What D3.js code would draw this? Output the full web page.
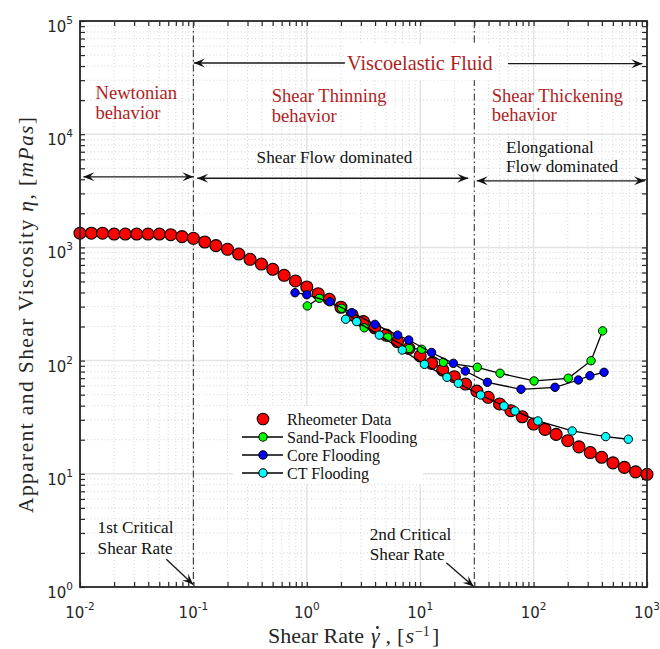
<!DOCTYPE html>
<html>
<head>
<meta charset="utf-8">
<script src="https://cdn.jsdelivr.net/npm/d3@7"></script>
<style>
  body { margin: 0; background: #fff; }
  svg { display: block; }
</style>
</head>
<body>
<svg id="chart" width="660" height="649"></svg>
<script>
// ---- data ----------------------------------------------------------------
const shearRate = [
  0.01, 0.0126, 0.0158, 0.02, 0.0251, 0.0316, 0.0398, 0.0501, 0.0631, 0.0794,
  0.1, 0.126, 0.158, 0.2, 0.251, 0.316, 0.398, 0.501, 0.631, 0.794,
  1, 1.26, 1.58, 2, 2.51, 3.16, 3.98, 5.01, 6.31, 7.94,
  10, 12.6, 15.8, 20, 25.1, 31.6, 39.8, 50.1, 63.1, 79.4,
  100, 126, 158, 200, 251, 316, 398, 501, 631, 794, 1000
];
const rheometerViscosity = [
  1334, 1334, 1334, 1313, 1313, 1313, 1313, 1313, 1295, 1244,
  1203, 1116, 1036, 962, 874, 785, 713, 641, 567, 505,
  447, 390, 348, 296, 253, 221, 195, 168, 147, 128,
  110, 94.6, 82.6, 72.1, 62.1, 53.8, 47.4, 41.4, 36.1, 31.9,
  27.5, 24.7, 22.3, 19.6, 17.3, 15.4, 14.0, 12.5, 11.4, 10.4, 9.9
];

const sandPackRate      = [1.01, 1.29, 2.03, 3.21, 5.17, 8.01, 10.3, 16.0, 31.9, 50.6, 101, 202, 321, 406];
const sandPackViscosity = [304, 355, 290, 195, 161, 128, 126, 96.6, 87.3, 77.3, 66.1, 69.8, 99.8, 183];

const coreRate      = [0.787, 1.0, 1.60, 2.49, 3.99, 6.33, 7.92, 12.6, 19.6, 25.0, 39.1, 77.4, 154.5, 248, 314, 418];
const coreViscosity = [398, 382, 331, 265, 209, 168, 152, 118, 94.6, 80.9, 64.3, 55.8, 58.1, 67.4, 73.6, 78.8];

const ctRate      = [2.20, 2.75, 4.36, 6.95, 10.9, 17.2, 21.7, 34.1, 54.8, 68.5, 109, 219, 432, 684];
const ctViscosity = [232, 221, 168, 124, 92.7, 71.2, 63.0, 49.7, 39.7, 35.9, 29.3, 23.9, 21.3, 20.2];

const criticalRates = [0.1, 30];
const xTickExponents = [-2, -1, 0, 1, 2, 3];
const yTickExponents = [0, 1, 2, 3, 4, 5];
const legendLabels = ["Rheometer Data", "Sand-Pack Flooding", "Core Flooding", "CT Flooding"];

// ---- layout ----------------------------------------------------------------
const svg = d3.select("#chart");
const X0 = 80, X1 = 647, Y0 = 587, Y1 = 21;
const x = d3.scaleLog().domain([1e-2, 1e3]).range([X0, X1]);
const y = d3.scaleLog().domain([1, 1e5]).range([Y0, Y1]);

const SERIF = "'Liberation Serif', 'Times New Roman', serif";
const SANS = "'DejaVu Sans', sans-serif";
const AX = "#262626";
const RED_TEXT = "#b01e1e";

svg.append("rect").attr("width", 660).attr("height", 649).attr("fill", "#fff");

svg.append("defs").append("clipPath").attr("id", "plotClip")
  .append("rect").attr("x", X0).attr("y", Y1).attr("width", X1 - X0).attr("height", Y0 - Y1);

// minor / major positions per decade
const minorX = [], minorY = [];
for (let e = -2; e < 3; e++) for (let k = 2; k <= 9; k++) minorX.push(k * Math.pow(10, e));
for (let e = 0; e < 5; e++) for (let k = 2; k <= 9; k++) minorY.push(k * Math.pow(10, e));
const majorX = xTickExponents.map(e => Math.pow(10, e));
const majorY = yTickExponents.map(e => Math.pow(10, e));

// ---- grid ----------------------------------------------------------------
const grid = svg.append("g").attr("clip-path", "url(#plotClip)");
grid.selectAll(".mgx").data(minorX).enter().append("line")
  .attr("x1", d => x(d)).attr("x2", d => x(d)).attr("y1", Y1).attr("y2", Y0)
  .attr("stroke", "#cfcfcf").attr("stroke-width", 0.9).attr("stroke-dasharray", "1,2.5");
grid.selectAll(".mgy").data(minorY).enter().append("line")
  .attr("y1", d => y(d)).attr("y2", d => y(d)).attr("x1", X0).attr("x2", X1)
  .attr("stroke", "#cfcfcf").attr("stroke-width", 0.9).attr("stroke-dasharray", "1,2.5");
grid.selectAll(".Mgx").data(majorX).enter().append("line")
  .attr("x1", d => x(d)).attr("x2", d => x(d)).attr("y1", Y1).attr("y2", Y0)
  .attr("stroke", "#e3e3e3").attr("stroke-width", 1.5);
grid.selectAll(".Mgy").data(majorY).enter().append("line")
  .attr("y1", d => y(d)).attr("y2", d => y(d)).attr("x1", X0).attr("x2", X1)
  .attr("stroke", "#e3e3e3").attr("stroke-width", 1.5);

// ---- axes (ticks pointing inward on all four sides) -----------------------
const TL = 5;
const allX = majorX.concat(minorX), allY = majorY.concat(minorY);
function styleAxis(g) {
  g.select(".domain").remove();
  g.selectAll(".tick line").attr("stroke", AX).attr("stroke-width", 1.2);
  g.selectAll(".tick text").remove();
}
svg.append("g").attr("transform", `translate(0,${Y0})`)
  .call(d3.axisBottom(x).tickValues(allX).tickSize(-TL)).call(styleAxis);
svg.append("g").attr("transform", `translate(0,${Y1})`)
  .call(d3.axisTop(x).tickValues(allX).tickSize(-TL)).call(styleAxis);
svg.append("g").attr("transform", `translate(${X0},0)`)
  .call(d3.axisLeft(y).tickValues(allY).tickSize(-TL)).call(styleAxis);
svg.append("g").attr("transform", `translate(${X1},0)`)
  .call(d3.axisRight(y).tickValues(allY).tickSize(-TL)).call(styleAxis);

// tick labels 10^n
xTickExponents.forEach(e => {
  const t = svg.append("text").attr("x", x(Math.pow(10, e))).attr("y", 618)
    .attr("text-anchor", "middle").attr("font-family", SANS).attr("fill", AX);
  t.append("tspan").attr("font-size", 15).text("10");
  t.append("tspan").attr("font-size", 10.5).attr("dy", -8).text(e < 0 ? "-" + (-e) : e);
});
yTickExponents.forEach(e => {
  const t = svg.append("text").attr("x", 73).attr("y", y(Math.pow(10, e)) + 11)
    .attr("text-anchor", "end").attr("font-family", SANS).attr("fill", AX);
  t.append("tspan").attr("font-size", 15).text("10");
  t.append("tspan").attr("font-size", 10.5).attr("dy", -8).text(e);
});

// ---- critical shear-rate lines ----------------------------------------------
svg.selectAll(".crit").data(criticalRates).enter().append("line")
  .attr("x1", d => x(d)).attr("x2", d => x(d)).attr("y1", Y1).attr("y2", Y0)
  .attr("stroke", "#3a3a3a").attr("stroke-width", 1.1)
  .attr("stroke-dasharray", "7,3,1.5,3");

// ---- arrows ----------------------------------------------------------------
function head(g, tx, ty, ang, L = 11, Wd = 9, fill = "#111") {
  g.append("path")
    .attr("d", `M0,0 L${-L},${-Wd / 2} L${-0.6 * L},0 L${-L},${Wd / 2} Z`)
    .attr("transform", `translate(${tx},${ty}) rotate(${ang})`)
    .attr("fill", fill);
}
function arrow(x1, y1, x2, y2, startHead, endHead) {
  const g = svg.append("g");
  g.append("line").attr("x1", x1).attr("y1", y1).attr("x2", x2).attr("y2", y2)
    .attr("stroke", "#1a1a1a").attr("stroke-width", 1.4);
  const ang = Math.atan2(y2 - y1, x2 - x1) * 180 / Math.PI;
  if (endHead) head(g, x2, y2, ang);
  if (startHead) head(g, x1, y1, ang + 180);
}

// region brackets
arrow(x(0.0107), y(4200), x(0.0999), y(4200), true, true);
arrow(x(0.108), y(4080), x(26.5), y(4080), true, true);
arrow(x(31.5), y(3870), x(960), y(3870), true, true);

// viscoelastic range arrows and label box
arrow(x(2.17), y(42600), x(0.101), y(42600), false, true);
arrow(x(59.4), y(42000), x(910), y(42000), false, true);
svg.append("rect").attr("x", x(2.2)).attr("y", y(62000)).attr("width", x(60) - x(2.2) - 12)
  .attr("height", y(30000) - y(62000)).attr("fill", "#fff");

// pointers to the critical rates
arrow(x(0.0577), y(1.757), x(0.0995), y(1.05), false, true);
arrow(x(17.0), y(1.64), x(29.6), y(1.01), false, true);

// ---- text annotations ----------------------------------------------------
function label(lines, rx, vy, size, color, lh) {
  const t = svg.append("text").attr("x", x(rx)).attr("y", y(vy))
    .attr("font-family", SERIF).attr("font-size", size).attr("fill", color);
  lines.forEach((s, i) => t.append("tspan").attr("x", x(rx)).attr("dy", i ? lh : 0).text(s));
}
label(["Viscoelastic Fluid"], 2.26, 36900, 20.3, RED_TEXT, 0);
label(["Newtonian", "behavior"], 0.0137, 20500, 18.6, RED_TEXT, 20);
label(["Shear Thinning", "behavior"], 0.49, 19400, 18.6, RED_TEXT, 20);
label(["Shear Thickening", "behavior"], 42.7, 19400, 18.6, RED_TEXT, 19.5);
label(["Shear Flow dominated"], 0.361, 5530, 17.2, "#111", 0);
label(["Elongational", "Flow dominated"], 57.1, 6870, 17.2, "#111", 19);
label(["1st Critical", "Shear Rate"], 0.0143, 3.0, 17.2, "#111", 21);
label(["2nd Critical", "Shear Rate"], 3.59, 2.6, 17.2, "#111", 20);

// ---- data series ----------------------------------------------------------
const plot = svg.append("g");
const rheo = shearRate.map((r, i) => [r, rheometerViscosity[i]]);
plot.selectAll(".rheo").data(rheo).enter().append("circle")
  .attr("cx", d => x(d[0])).attr("cy", d => y(d[1])).attr("r", 6)
  .attr("fill", "#ff0000").attr("stroke", "#000").attr("stroke-width", 1.1);

const line = d3.line().x(d => x(d[0])).y(d => y(d[1]));
const flooding = [
  { rate: sandPackRate, visc: sandPackViscosity, color: "#00ff00" },
  { rate: coreRate, visc: coreViscosity, color: "#0000ff" },
  { rate: ctRate, visc: ctViscosity, color: "#00ffff" }
];
flooding.forEach(s => {
  const pts = s.rate.map((r, i) => [r, s.visc[i]]);
  plot.append("path").datum(pts).attr("d", line)
    .attr("fill", "none").attr("stroke", "#000").attr("stroke-width", 1.3);
  plot.selectAll(null).data(pts).enter().append("circle")
    .attr("cx", d => x(d[0])).attr("cy", d => y(d[1])).attr("r", 4.2)
    .attr("fill", s.color).attr("stroke", "#000").attr("stroke-width", 1);
});

// ---- legend ----------------------------------------------------------------
const lg = svg.append("g");
lg.append("rect").attr("x", 233).attr("y", 406).attr("width", 190).attr("height", 78).attr("fill", "#fff");
const legendColors = ["#ff0000", "#00ff00", "#0000ff", "#00ffff"];
legendLabels.forEach((name, i) => {
  const cy = 419 + i * 18;
  if (i > 0) lg.append("line").attr("x1", 242).attr("x2", 283).attr("y1", cy).attr("y2", cy)
    .attr("stroke", "#000").attr("stroke-width", 1.6);
  lg.append("circle").attr("cx", 263).attr("cy", cy).attr("r", i === 0 ? 5.8 : 4.2)
    .attr("fill", legendColors[i]).attr("stroke", "#000").attr("stroke-width", 1.1);
  lg.append("text").attr("x", 287).attr("y", cy + 5.5).attr("font-family", SERIF)
    .attr("font-size", 16).attr("fill", "#111").text(name);
});

// ---- frame ------------------------------------------------------------------
svg.append("rect").attr("x", X0).attr("y", Y1).attr("width", X1 - X0).attr("height", Y0 - Y1)
  .attr("fill", "none").attr("stroke", AX).attr("stroke-width", 1.8);

// ---- axis titles -----------------------------------------------------------
const XT_BASE = 643;
const xt = svg.append("text").attr("x", 268).attr("y", XT_BASE)
  .attr("font-family", SERIF).attr("font-size", 22).attr("fill", AX);
xt.append("tspan").text("Shear Rate");
xt.append("tspan").attr("dx", 7).attr("font-style", "italic").text("γ");
xt.append("tspan").attr("dx", 6).text(",");
xt.append("tspan").attr("dx", 6).text("[");
xt.append("tspan").attr("dx", 1).attr("font-style", "italic").text("s");
xt.append("tspan").attr("font-size", 14).attr("dx", 1).attr("dy", -7.5).text("−1");
xt.append("tspan").attr("dx", 2).attr("dy", 7.5).text("]");
// dot accent over gamma (time derivative)
{
  const node = xt.node();
  const idx = "Shear Rate".length;
  const ext = node.getExtentOfChar(idx);
  svg.append("circle").attr("cx", ext.x + ext.width / 2 + 2.2).attr("cy", XT_BASE - 15.5)
    .attr("r", 1.4).attr("fill", AX);
}

const yt = svg.append("text").attr("transform", "translate(33,315) rotate(-90)")
  .attr("text-anchor", "middle").attr("font-family", SERIF).attr("font-size", 21.5).attr("fill", AX)
  .attr("textLength", 396).attr("lengthAdjust", "spacing");
yt.append("tspan").text("Apparent and Shear Viscosity ");
yt.append("tspan").attr("font-style", "italic").text("η");
yt.append("tspan").text(", [");
yt.append("tspan").attr("font-style", "italic").text("mPas");
yt.append("tspan").text("]");
</script>
</body>
</html>
